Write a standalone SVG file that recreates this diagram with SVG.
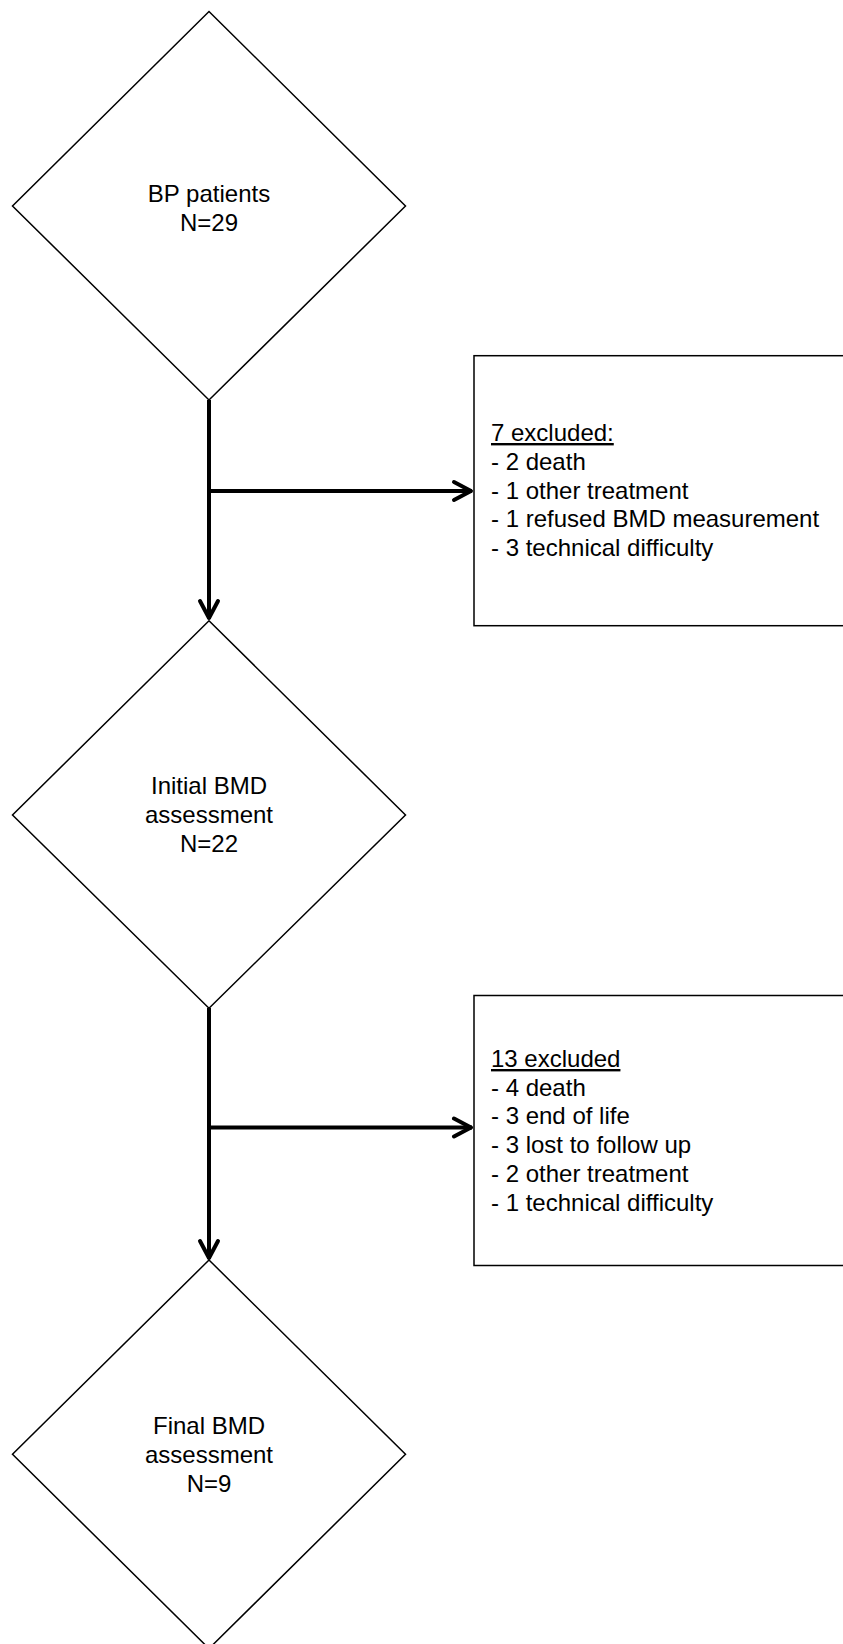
<svg xmlns="http://www.w3.org/2000/svg" width="843" height="1644" viewBox="0 0 843 1644">
<style>
.shape{fill:#ffffff;stroke:#000000;stroke-width:1.5}
.lbl{font-family:"Liberation Sans",Arial,sans-serif;font-size:24px;fill:#000000}
.c{text-anchor:middle}
.conn{stroke:#000000;stroke-width:4;fill:none}
</style>
<defs>
<marker id="arr" markerUnits="userSpaceOnUse" viewBox="-24 -12 28 24" markerWidth="28" markerHeight="24" refX="0" refY="0" orient="auto">
<path d="M-18,-9 L-1,0 L-18,9" fill="none" stroke="#000000" stroke-width="4" stroke-linecap="round" stroke-linejoin="round"/>
</marker>
</defs>
<rect width="843" height="1644" fill="#ffffff"/>
<g id="connectors">
<line class="conn" x1="209" y1="400" x2="209" y2="619" marker-end="url(#arr)"/>
<line class="conn" x1="209" y1="491" x2="472" y2="491" marker-end="url(#arr)"/>
<line class="conn" x1="209" y1="1008" x2="209" y2="1259" marker-end="url(#arr)"/>
<line class="conn" x1="209" y1="1127.5" x2="472" y2="1127.5" marker-end="url(#arr)"/>
</g>
<g id="node-bp-patients">
<polygon class="shape" points="209,11.5 405.5,206 209,400 12.5,206"/>
<text class="lbl c" x="209" y="202">BP patients</text>
<text class="lbl c" x="209" y="231">N=29</text>
</g>
<g id="node-excluded-1">
<rect class="shape" x="474" y="355.7" width="390" height="270"/>
<text class="lbl" x="491" y="441"><tspan x="491" text-decoration="underline">7 excluded:</tspan><tspan x="491" dy="28.8">- 2 death</tspan><tspan x="491" dy="28.8">- 1 other treatment</tspan><tspan x="491" dy="28.8">- 1 refused BMD measurement</tspan><tspan x="491" dy="28.8">- 3 technical difficulty</tspan></text>
</g>
<g id="node-initial-bmd">
<polygon class="shape" points="209,620.7 405.5,815 209,1008.3 12.5,815"/>
<text class="lbl c" x="209" y="794">Initial BMD</text>
<text class="lbl c" x="209" y="823">assessment</text>
<text class="lbl c" x="209" y="852">N=22</text>
</g>
<g id="node-excluded-2">
<rect class="shape" x="474" y="995.5" width="390" height="270"/>
<text class="lbl" x="491" y="1067"><tspan x="491" text-decoration="underline">13 excluded</tspan><tspan x="491" dy="28.7">- 4 death</tspan><tspan x="491" dy="28.7">- 3 end of life</tspan><tspan x="491" dy="28.7">- 3 lost to follow up</tspan><tspan x="491" dy="28.7">- 2 other treatment</tspan><tspan x="491" dy="28.7">- 1 technical difficulty</tspan></text>
</g>
<g id="node-final-bmd">
<polygon class="shape" points="209,1260 405.5,1454.3 209,1648.6 12.5,1454.3"/>
<text class="lbl c" x="209" y="1434">Final BMD</text>
<text class="lbl c" x="209" y="1463">assessment</text>
<text class="lbl c" x="209" y="1492">N=9</text>
</g>
</svg>
